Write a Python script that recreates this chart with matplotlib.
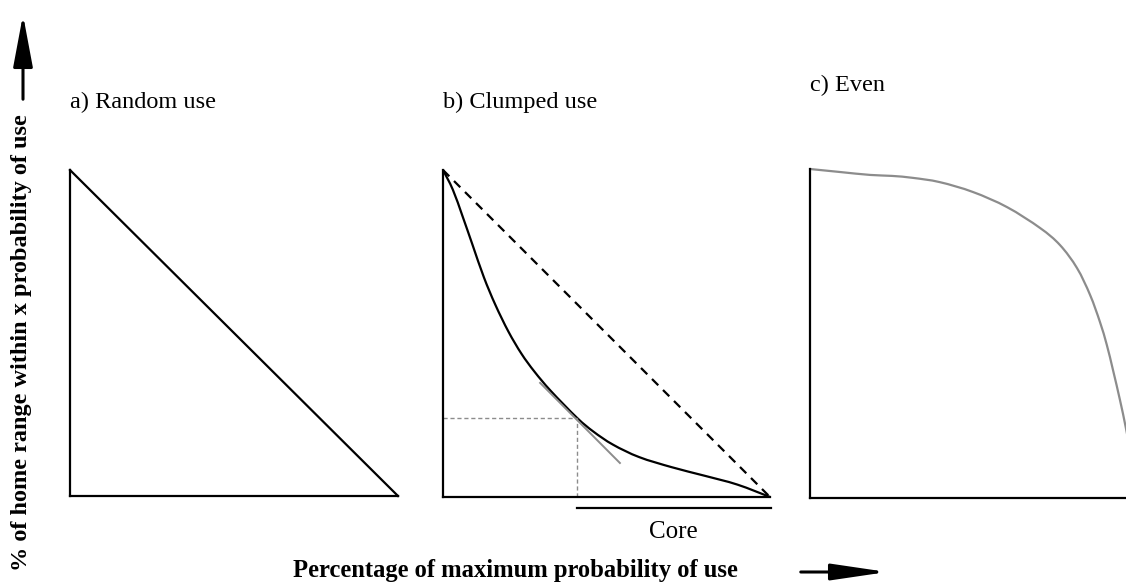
import matplotlib
matplotlib.use("Agg")
import numpy as np
import matplotlib.pyplot as plt
from matplotlib.path import Path
from matplotlib.patches import PathPatch

plt.rcParams['font.family'] = ['Liberation Serif', 'DejaVu Serif']

W, H = 1126, 584

# curve values, % of max probability (x) vs % of home range (y)
random_x = [0, 100]
random_y = [100, 0]

clumped_x = [0, 3, 6, 9, 12.5, 16, 20, 24, 28, 33, 41, 46, 52, 60, 70, 80, 90, 100]
clumped_y = [100, 94.0, 85.8, 77.2, 67.2, 58.8, 50.6, 43.8, 38.3, 32.4, 24.2, 20.0, 16.0, 12.2, 9.1, 6.5, 3.8, 0]

# tangent at the inflection point and its projection onto the axes
tangent_x = [29.7, 54.1]
tangent_y = [34.9, 10.4]
core_x = 41
core_y = 24.2

even_x = [0, 9, 18.3, 25, 31.4, 39.6, 49.7, 60.1, 70.1, 76.2, 81.4, 85.4, 88.4, 90.5, 92.4, 94.5,
          96.3, 98.2, 100]
even_y = [100, 99.1, 98.2, 97.9, 97.3, 96.0, 93.0, 88.4, 82.1, 76.9, 69.9, 61.7, 53.5, 46.5, 38.8, 29.8,
          21.3, 11.2, 0]

titles = ['a) Random use', 'b) Clumped use', 'c) Even']
xlabel = 'Percentage of maximum probability of use'
ylabel = '% of home range within x probability of use'


def px_axes(fig, x0, y0, x1, y1):
    ax = fig.add_axes([x0 / W, 1 - y1 / H, (x1 - x0) / W, (y1 - y0) / H])
    ax.set_xlim(0, 100)
    ax.set_ylim(0, 100)
    for side in ['top', 'right']:
        ax.spines[side].set_visible(False)
    for side in ['left', 'bottom']:
        ax.spines[side].set_linewidth(1.6)
        ax.spines[side].set_color('black')
    ax.set_xticks([])
    ax.set_yticks([])
    ax.patch.set_alpha(0)
    return ax


def smooth_line(ax, xs, ys, **kw):
    # Catmull-Rom through the points, drawn as cubic Bezier segments
    p = np.column_stack([xs, ys]).astype(float)
    ext = np.vstack([p[0], p, p[-1]])
    verts = [p[0]]
    codes = [Path.MOVETO]
    for i in range(1, len(ext) - 2):
        p0, p1, p2, p3 = ext[i - 1], ext[i], ext[i + 1], ext[i + 2]
        verts += [p1 + (p2 - p0) / 6, p2 - (p3 - p1) / 6, p2]
        codes += [Path.CURVE4] * 3
    patch = PathPatch(Path(verts, codes), fill=False, capstyle='round', **kw)
    ax.add_patch(patch)
    return patch


fig = plt.figure(figsize=(W / 100, H / 100), dpi=100)

# a) random use
ax_a = px_axes(fig, 70, 170, 398, 496)
ax_a.plot(random_x, random_y, color='black', lw=1.6, clip_on=False)

# b) clumped use
ax_b = px_axes(fig, 443, 170, 770, 497)
ax_b.plot(random_x, random_y, color='black', lw=1.6, ls=(0, (4, 3)), clip_on=False)
smooth_line(ax_b, clumped_x, clumped_y, edgecolor='black', lw=1.6, clip_on=False)
ax_b.plot(tangent_x, tangent_y, color='#8c8c8c', lw=1.4)
ax_b.plot([0, core_x], [core_y, core_y], color='#8c8c8c', lw=1.0, ls=(0, (3, 2)))
ax_b.plot([core_x, core_x], [0, core_y], color='#8c8c8c', lw=1.0, ls=(0, (3, 2)))
ax_b.plot([core_x, 100.3], [-3.4, -3.4], color='black', lw=1.6, clip_on=False)
ax_b.text((core_x + 100) / 2, -10.8, 'Core', ha='center', va='center', fontsize=18)

# c) even use
ax_c = px_axes(fig, 810, 169, 1138, 498)
smooth_line(ax_c, even_x, even_y, edgecolor='#8c8c8c', lw=1.6, clip_on=False)

# titles and overall axis labels in pixel coordinates
over = fig.add_axes([0, 0, 1, 1])
over.set_xlim(0, W)
over.set_ylim(H, 0)
over.axis('off')
over.patch.set_alpha(0)

over.text(70, 108, titles[0], fontsize=17.5, ha='left', va='baseline')
over.text(443, 108, titles[1], fontsize=17.5, ha='left', va='baseline')
over.text(810, 91, titles[2], fontsize=17.5, ha='left', va='baseline')

over.text(515, 571, xlabel, fontsize=17.7, fontweight='bold', ha='center', va='center')
over.text(22, 114, ylabel, fontsize=17.5, fontweight='bold', rotation=90, ha='center', va='top')

over.annotate('', xy=(890, 572), xytext=(798, 572),
              arrowprops=dict(arrowstyle='-|>,head_length=3.4,head_width=0.5', color='black', lw=2.2))
over.annotate('', xy=(23, 12), xytext=(23, 102),
              arrowprops=dict(arrowstyle='-|>,head_length=3.2,head_width=0.6', color='black', lw=2.2))

fig.savefig('out.png', dpi=100)
